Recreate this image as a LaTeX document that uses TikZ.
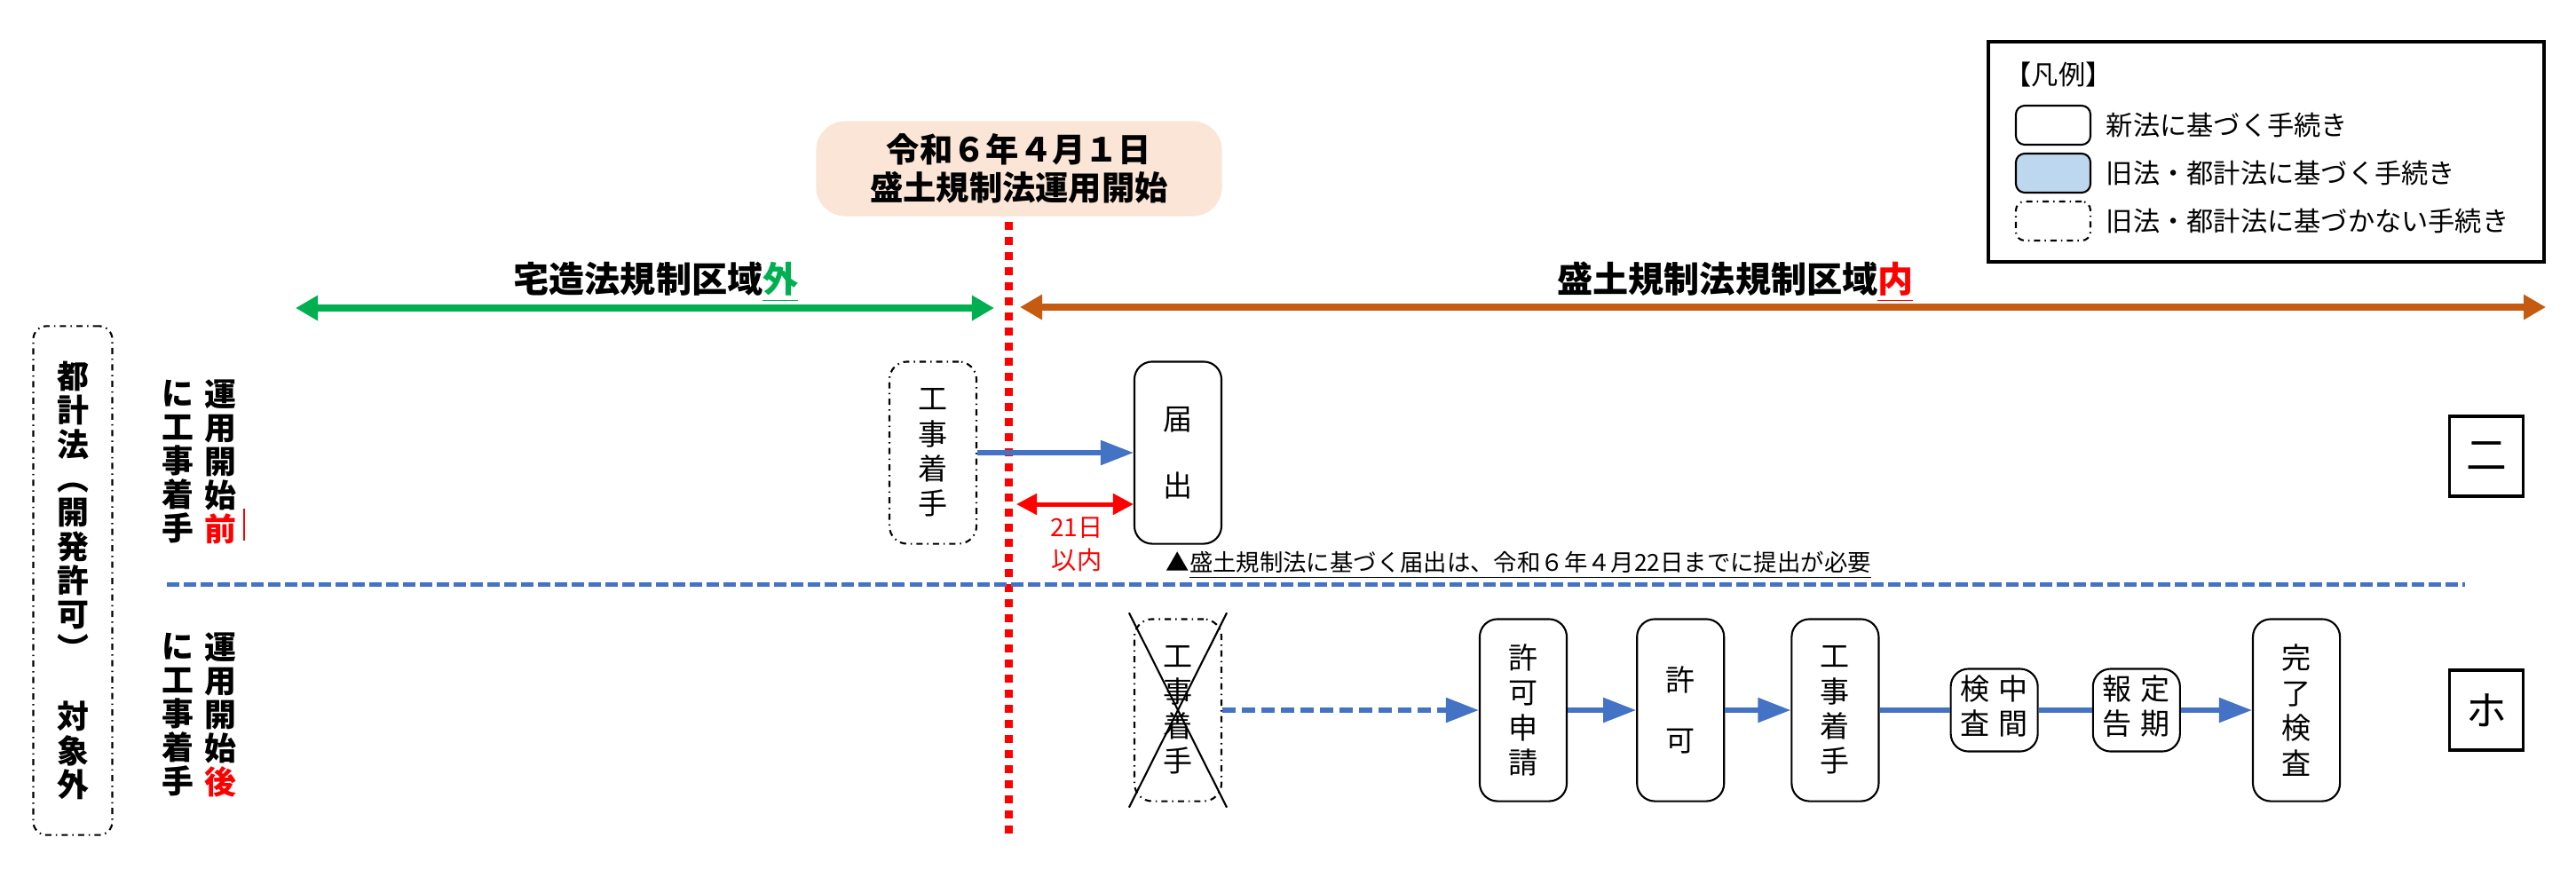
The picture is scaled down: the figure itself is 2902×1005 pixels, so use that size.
\documentclass[tikz,border=0pt]{standalone}
\usepackage{fontspec}
\setmainfont{Noto Sans CJK JP}
\definecolor{flowblue}{RGB}{68, 114, 196}
\definecolor{zonegreen}{RGB}{0, 176, 80}
\definecolor{zoneorange}{RGB}{197, 90, 17}
\definecolor{datepeach}{RGB}{251, 229, 214}
\definecolor{oldblue}{RGB}{189, 215, 238}
\definecolor{alertred}{RGB}{255, 0, 0}
\usepackage{tikz}
\usetikzlibrary{arrows.meta, positioning}
\newcommand{\hdrfont}{\fontsize{10.6pt}{12.2pt}\selectfont\bfseries}
\newcommand{\zonefont}{\fontsize{11.4pt}{13pt}\selectfont\bfseries}
\newcommand{\rowfont}{\fontsize{10.2pt}{10.8pt}\selectfont\bfseries}
\newcommand{\cityfont}{\fontsize{10.2pt}{10.9pt}\selectfont\bfseries}
\newcommand{\procfont}{\fontsize{9.4pt}{11.2pt}\selectfont}
\newcommand{\limfont}{\fontsize{8pt}{10.5pt}\selectfont}
\newcommand{\notefont}{\fontsize{7.5pt}{9pt}\selectfont}
\newcommand{\keyfont}{\fontsize{8.6pt}{10pt}\selectfont}
\newcommand{\markfont}{\fontsize{13pt}{15pt}\selectfont}

\begin{document}
\begin{tikzpicture}[
        x=0.01cm, y=-0.01cm,
        every node/.style={inner sep=0pt},
        proc/.style={draw, rounded corners=0.2cm, line width=0.6pt, minimum width=0.98cm, align=center, font=\procfont},
        tallbox/.style={minimum height=2.05cm},
        shortbox/.style={minimum height=0.93cm},
        dashdotline/.style={dash pattern=on 0.07cm off 0.05cm on 0.015cm off 0.05cm},
        oldproc/.style={proc, dashdotline},
        rowlbl/.style={align=center, font=\rowfont},
        zonelbl/.style={font=\zonefont},
        markbox/.style={draw, line width=1.1pt, minimum width=0.83cm, minimum height=0.90cm, font=\markfont},
        keybox/.style={draw, rounded corners=0.1cm, line width=0.6pt, minimum width=0.84cm, minimum height=0.44cm},
        keytext/.style={anchor=west, font=\keyfont},
        flowarrow/.style={flowblue, line width=0.055cm, -{Triangle[length=0.37cm, width=0.27cm]}},
        flowline/.style={flowblue, line width=0.055cm},
        zonearrow/.style={line width=0.08cm, {Triangle[length=0.25cm, width=0.27cm]}-{Triangle[length=0.25cm, width=0.27cm]}}
    ]
    \useasboundingbox (0,0) rectangle (2902,1005);

    % start date and zones
    \node[fill=datepeach, rounded corners=0.33cm, minimum width=4.57cm, minimum height=1.07cm, align=center, font=\hdrfont] (start) at (1148,190) {令和６年４月１日\\盛土規制法運用開始};
    \coordinate (dtop) at (1136,250);
    \coordinate (dbot) at (1136,940);
    \draw[alertred, line width=0.09cm, dash pattern=on 0.09cm off 0.08cm] (dtop) -- (dbot);

    \coordinate (outL) at (333,347);
    \coordinate (outR) at (1120,347);
    \coordinate (inL) at (1149,346);
    \coordinate (inR) at (2868,346);
    \draw[zonearrow, zonegreen] (outL) -- (outR);
    \draw[zonearrow, zoneorange] (inL) -- (inR);
    \node[zonelbl] (outside) at (739,318) {宅造法規制区域\textcolor{zonegreen}{\underline{外}}};
    \node[zonelbl] (inside) at (1955,318) {盛土規制法規制区域\textcolor{alertred}{\underline{内}}};

    % legend
    \node[draw, line width=1.1pt, minimum width=6.25cm, minimum height=2.48cm] (legend) at (2553,171) {};
    \node[keytext] (legtitle) at (2258,84) {【凡例】};
    \node[keybox] (keynew) at (2313,141) {};
    \node[keybox, fill=oldblue] (keyold) at (2313,195) {};
    \node[keybox, dashdotline] (keynone) at (2313,249) {};
    \node[keytext, right=0.16cm of keynew] (keynewtxt) {新法に基づく手続き};
    \node[keytext, right=0.16cm of keyold] (keyoldtxt) {旧法・都計法に基づく手続き};
    \node[keytext, right=0.16cm of keynone] (keynonetxt) {旧法・都計法に基づかない手続き};

    % row labels
    \node[oldproc, minimum width=0.89cm, minimum height=5.73cm, rounded corners=0.15cm, font=\cityfont] (cityplan) at (82,654) {都\\計\\法\\︵\\開\\発\\許\\可\\︶\\\mbox{}\\対\\象\\外};
    \node[rowlbl] (preR) at (248,520) {運\\用\\開\\始\\\textcolor{alertred}{前}};
    \node[rowlbl, left=0.1cm of preR] (preL) {に\\工\\事\\着\\手};
    \draw[alertred, line width=0.6pt] (275,573) -- (275,609);
    \node[rowlbl] (postR) at (248,805) {運\\用\\開\\始\\\textcolor{alertred}{後}};
    \node[rowlbl, left=0.1cm of postR] (postL) {に\\工\\事\\着\\手};

    \coordinate (sepL) at (188,658);
    \coordinate (sepR) at (2777,658);
    \draw[flowblue, line width=0.05cm, dash pattern=on 0.14cm off 0.05cm] (sepL) -- (sepR);

    % row ni
    \node[oldproc, tallbox] (work1) at (1051,510) {工\\事\\着\\手};
    \node[proc, tallbox] (notify) at (1327,510) {届\\[10pt]出};
    \draw[flowarrow] (work1) -- (notify);
    \coordinate (limstart) at (1145,568);
    \draw[alertred, line width=0.05cm, {Triangle[length=0.23cm, width=0.23cm]}-{Triangle[length=0.23cm, width=0.23cm]}] (limstart) -- (limstart -| notify.west);
    \node[align=center, text=alertred, font=\limfont] (within) at (1213,613) {21日\\以内};
    \node[anchor=west, font=\notefont] (memo) at (1313,637) {▲\underline{盛土規制法に基づく届出は、令和６年４月22日までに提出が必要}};
    \node[markbox] (ni) at (2801,514) {二};

    % row ho
    \node[oldproc, tallbox] (work2) at (1327,800) {工\\事\\着\\手};
    \draw[line width=0.6pt] ([shift={(-0.05cm,0.06cm)}]work2.north west) -- ([shift={(0.05cm,-0.06cm)}]work2.south east);
    \draw[line width=0.6pt] ([shift={(0.05cm,0.06cm)}]work2.north east) -- ([shift={(-0.05cm,-0.06cm)}]work2.south west);
    \node[proc, tallbox] (apply) at (1716,800) {許\\可\\申\\請};
    \node[proc, tallbox, right=0.77cm of apply] (permit) {許\\[8pt]可};
    \node[proc, tallbox, right=0.74cm of permit] (work3) {工\\事\\着\\手};
    \node[proc, shortbox, right=0.79cm of work3] (midchk) {\begin{tabular}{@{}c@{\hspace{0.1cm}}c@{}}検&中\\査&間\end{tabular}};
    \node[proc, shortbox, right=0.60cm of midchk] (report) {\begin{tabular}{@{}c@{\hspace{0.1cm}}c@{}}報&定\\告&期\end{tabular}};
    \node[proc, tallbox, right=0.80cm of report] (final) {完\\了\\検\\査};
    \draw[flowarrow, dash pattern=on 0.15cm off 0.07cm] (work2) -- (apply);
    \draw[flowarrow] (apply) -- (permit);
    \draw[flowarrow] (permit) -- (work3);
    \draw[flowline] (work3) -- (midchk);
    \draw[flowline] (midchk) -- (report);
    \draw[flowarrow] (report) -- (final);
    \node[markbox] (ho) at (2801,800) {ホ};
\end{tikzpicture}
\end{document}
